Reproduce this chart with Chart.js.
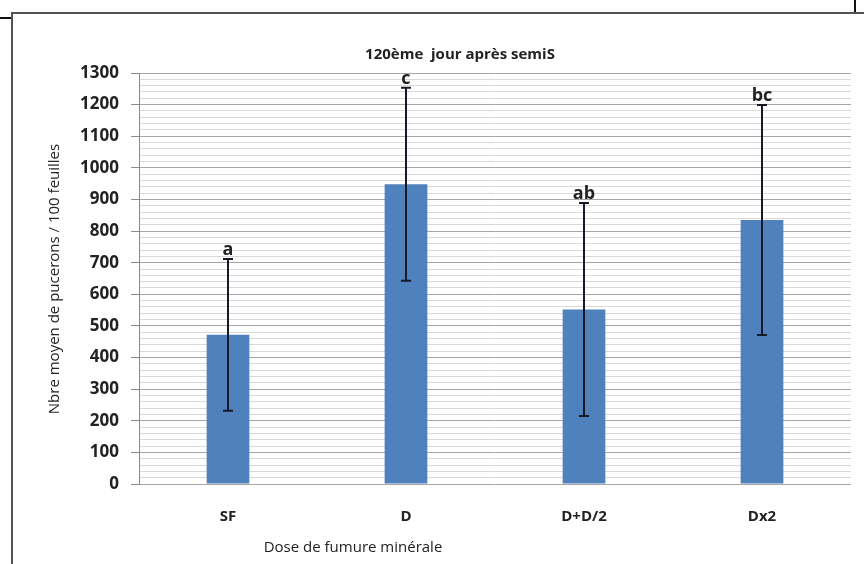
<!DOCTYPE html>
<html>
<head>
<meta charset="utf-8">
<script src="https://cdn.jsdelivr.net/npm/chart.js@4.4.1/dist/chart.umd.min.js"></script>
<style>
  html, body { margin: 0; padding: 0; background: #fff; }
  canvas { display: block; }
</style>
</head>
<body>
<canvas id="aphids" width="864" height="564"></canvas>
<script>
// Mean aphid count per 100 leaves, 120 days after sowing
const categories = ['SF', 'D', 'D+D/2', 'Dx2'];
const means = [472, 948, 552, 835];
const errors = [240, 305, 337, 364];
const letters = ['a', 'c', 'ab', 'bc'];

const yMin = 0;
const yMax = 1300;
const majorStep = 100;
const minorStep = 20;

const chartTitle = '120ème  jour après semiS';
const yTitle = 'Nbre moyen de pucerons / 100 feuilles';
const xTitle = 'Dose de fumure minérale';

const FONT = "'Open Sans', 'DejaVu Sans', sans-serif";

// Outer frame + white background
const framePlugin = {
    id: 'frame',
    beforeDraw(chart) {
        const ctx = chart.ctx;
        ctx.save();
        ctx.fillStyle = '#fff';
        ctx.fillRect(0, 0, chart.width, chart.height);

        ctx.strokeStyle = '#555';
        ctx.lineWidth = 2;
        ctx.beginPath();
        ctx.moveTo(12, 564);
        ctx.lineTo(12, 13);
        ctx.lineTo(864, 13);
        ctx.stroke();

        ctx.strokeStyle = '#111';
        ctx.beginPath();
        ctx.moveTo(0, 18);
        ctx.lineTo(11, 18);
        ctx.moveTo(855, 0);
        ctx.lineTo(855, 12);
        ctx.stroke();
        ctx.restore();
    }
};

// Error bars, significance letters and axis titles
const annotatePlugin = {
    id: 'annotate',
    afterDatasetsDraw(chart) {
        const ctx = chart.ctx;
        const xs = chart.scales.x;
        const ys = chart.scales.y;
        ctx.save();

        means.forEach((m, i) => {
            const x = xs.getPixelForValue(i);
            const yTop = ys.getPixelForValue(m + errors[i]);
            const yBot = ys.getPixelForValue(m - errors[i]);

            ctx.strokeStyle = '#161a26';
            ctx.lineWidth = 2;
            ctx.beginPath();
            ctx.moveTo(x, yTop);
            ctx.lineTo(x, yBot);
            ctx.moveTo(x - 5, yTop);
            ctx.lineTo(x + 5, yTop);
            ctx.moveTo(x - 5, yBot);
            ctx.lineTo(x + 5, yBot);
            ctx.stroke();

            ctx.fillStyle = '#222';
            ctx.font = 'bold 18px ' + FONT;
            ctx.textAlign = 'center';
            ctx.textBaseline = 'alphabetic';
            ctx.fillText(letters[i], x, yTop - 4);
        });

        ctx.fillStyle = '#222';
        ctx.textAlign = 'center';
        ctx.textBaseline = 'middle';

        ctx.font = 'bold 15px ' + FONT;
        ctx.fillText(chartTitle, 460, 55);

        ctx.font = '15px ' + FONT;
        ctx.fillText(xTitle, 353, 548);

        ctx.translate(55, 279);
        ctx.rotate(-Math.PI / 2);
        ctx.fillText(yTitle, 0, 0);
        ctx.restore();
    }
};

new Chart(document.getElementById('aphids'), {
    type: 'bar',
    data: {
        labels: categories,
        datasets: [{
            data: means,
            backgroundColor: '#4f81bd',
            borderWidth: 0,
            barPercentage: 0.24,
            categoryPercentage: 1
        }]
    },
    options: {
        responsive: false,
        animation: false,
        layout: { padding: { left: 14, top: 73, right: 13, bottom: 40 } },
        plugins: {
            legend: { display: false },
            tooltip: { enabled: false }
        },
        scales: {
            x: {
                grid: { display: false, drawTicks: false },
                border: { display: false },
                ticks: {
                    color: '#222',
                    padding: 24,
                    font: { family: FONT, size: 15, weight: 'bold' }
                },
                afterFit(scale) { scale.height = 40; }
            },
            y: {
                min: yMin,
                max: yMax,
                border: { color: '#8a8a8a' },
                grid: {
                    color: c => c.tick && c.tick.value % majorStep === 0 ? '#a6a6a6' : '#d9d9d9',
                    tickColor: c => c.tick && c.tick.value % majorStep === 0 ? '#8a8a8a' : 'rgba(0,0,0,0)',
                    tickLength: 8
                },
                ticks: {
                    stepSize: minorStep,
                    autoSkip: false,
                    color: '#222',
                    padding: 12,
                    font: { family: FONT, size: 17, weight: 'bold' },
                    callback: v => v % majorStep === 0 ? v : ''
                },
                afterFit(scale) { scale.width = 125; }
            }
        }
    },
    plugins: [framePlugin, annotatePlugin]
});
</script>
</body>
</html>
